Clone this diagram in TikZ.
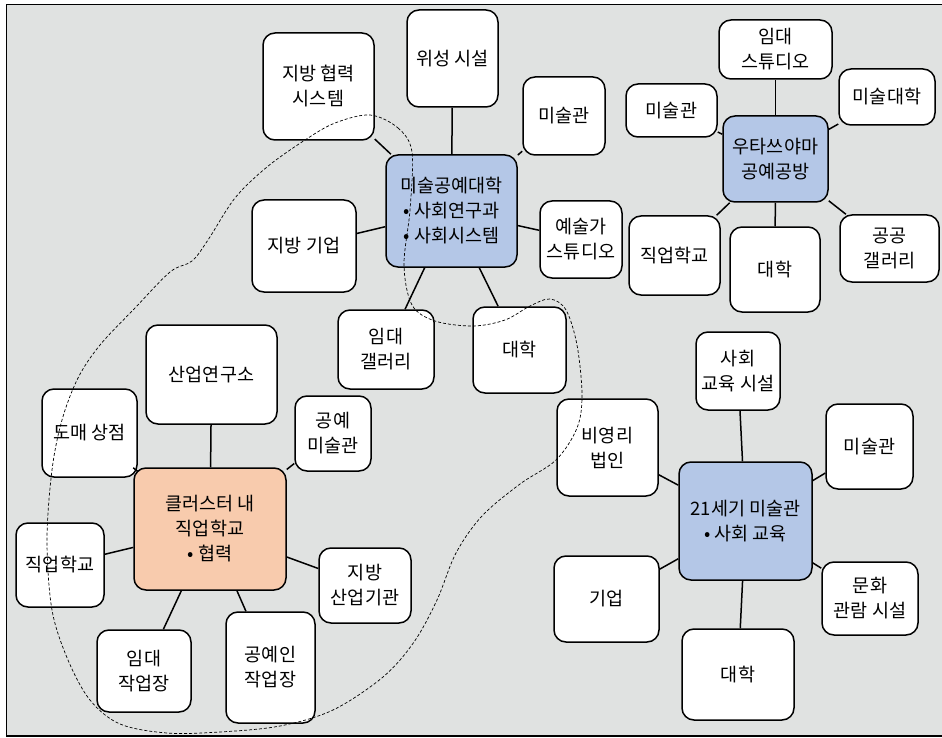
\documentclass[tikz,border=0pt]{standalone}
\usepackage{fontspec}
\setmainfont{Noto Sans CJK KR}
\definecolor{bggray}{HTML}{E0E2E1}
\definecolor{cblue}{HTML}{B4C7E7}
\definecolor{corange}{HTML}{F8CBAD}
\begin{document}
\begin{tikzpicture}[x=1pt,y=-1pt,
  box/.style={draw, line width=1.5pt, rounded corners=12pt, fill=white, align=center,
    font=\fontsize{18.5}{25}\selectfont, inner sep=0pt},
  bluebox/.style={box, fill=cblue},
  orangebox/.style={box, fill=corange},
  link/.style={line width=1.5pt},
  blob/.style={dashed, dash pattern=on 3pt off 2pt, line width=0.7pt}]
\useasboundingbox (0,0) rectangle (942,738);
\fill[bggray] (6.5,4.5) rectangle (942,736);
\draw[line width=1.3pt] (945,4.5) -- (6.5,4.5) -- (6.5,736) -- (945,736);

% centres
\node[bluebox, minimum width=131pt, minimum height=112pt] (c1) at (451.5,211) {미술공예대학\\• 사회연구과\\• 사회시스템};
\node[bluebox, minimum width=105pt, minimum height=86pt] (c2) at (775.5,159) {우타쓰야마\\공예공방};
\node[orangebox, minimum width=152pt, minimum height=122pt] (c3) at (210,529) {클러스터 내\\직업학교\\• 협력};
\node[bluebox, minimum width=133pt, minimum height=118pt] (c4) at (745.5,521) {21세기 미술관\\• 사회 교육};

% C1 satellites
\node[box, minimum width=111pt, minimum height=107pt] (jbhr) at (318.5,86.5) {지방 협력\\시스템};
\node[box, minimum width=91pt, minimum height=97pt] (wisung) at (452.5,58.5) {위성 시설};
\node[box, minimum width=82pt, minimum height=78pt] (misul1) at (564,116) {미술관};
\node[box, minimum width=104pt, minimum height=92pt] (jbgy) at (304,246) {지방 기업};
\node[box, minimum width=82pt, minimum height=77pt] (yesul) at (581,239.5) {예술가\\스튜디오};
\node[box, minimum width=96pt, minimum height=79pt] (imgal) at (386,349.5) {임대\\갤러리};
\node[box, minimum width=93pt, minimum height=86pt] (dh1) at (519.5,350) {대학};

% C2 satellites
\node[box, minimum width=113pt, minimum height=59pt] (imst) at (775.5,49.5) {임대\\스튜디오};
\node[box, minimum width=91pt, minimum height=53pt] (misul2) at (671.5,110.5) {미술관};
\node[box, minimum width=96pt, minimum height=56pt] (mdh) at (887,97) {미술대학};
\node[box, minimum width=91pt, minimum height=79pt] (jhk2) at (674.5,255.5) {직업학교};
\node[box, minimum width=90pt, minimum height=85pt] (dh2) at (775,269.5) {대학};
\node[box, minimum width=99pt, minimum height=67pt] (gg) at (889.5,248.5) {공공\\갤러리};

% C3 satellites
\node[box, minimum width=131pt, minimum height=99pt] (sy) at (211.5,374.5) {산업연구소};
\node[box, minimum width=95pt, minimum height=88pt] (dm) at (89.5,433) {도매 상점};
\node[box, minimum width=76pt, minimum height=75pt] (gy) at (333,433.5) {공예\\미술관};
\node[box, minimum width=88pt, minimum height=84pt] (jhk3) at (60,565) {직업학교};
\node[box, minimum width=92pt, minimum height=75pt] (jbsu) at (365,585.5) {지방\\산업기관};
\node[box, minimum width=94pt, minimum height=82pt] (imj) at (144,671) {임대\\작업장};
\node[box, minimum width=89pt, minimum height=111pt] (gyj) at (270.5,667.5) {공예인\\작업장};

% C4 satellites
\node[box, minimum width=84pt, minimum height=78pt] (sg) at (738,371) {사회\\교육 시설};
\node[box, minimum width=101pt, minimum height=97pt] (by) at (607.5,447.5) {비영리\\법인};
\node[box, minimum width=87pt, minimum height=85pt] (misul4) at (869.5,446.5) {미술관};
\node[box, minimum width=105pt, minimum height=86pt] (gi) at (606.5,599) {기업};
\node[box, minimum width=96pt, minimum height=73pt] (mh) at (870,598.5) {문화\\관람 시설};
\node[box, minimum width=112pt, minimum height=91pt] (dh4) at (738,674.5) {대학};

% connectors
\foreach \s in {jbhr,wisung,misul1,jbgy,yesul,imgal,dh1} \draw[link] (c1) -- (\s);
\foreach \s in {imst,misul2,mdh,jhk2,dh2,gg} \draw[link] (c2) -- (\s);
\foreach \s in {sy,dm,gy,jhk3,jbsu,imj,gyj} \draw[link] (c3) -- (\s);
\foreach \s in {sg,by,misul4,gi,mh,dh4} \draw[link] (c4) -- (\s);

% dashed cluster outline
\draw[blob] plot[smooth cycle, tension=0.55] coordinates {
 (370,115) (398,128) (412,152) (410,210) (404,265) (412,305) (435,321) (473,326)
 (505,320) (530,306) (550,299) (566,310) (577,345) (582,395) (577,428) (556,460)
 (520,484) (482,516) (456,553) (437,600) (414,642) (383,677) (333,710) (280,726)
 (220,732) (167,733) (120,724) (90,700) (68,660) (52,610) (47,540) (52,470)
 (62,420) (78,378) (100,345) (135,308) (170,272) (192,261) (208,240) (235,198)
 (267,167) (305,140) (335,123)};
\end{tikzpicture}
\end{document}
